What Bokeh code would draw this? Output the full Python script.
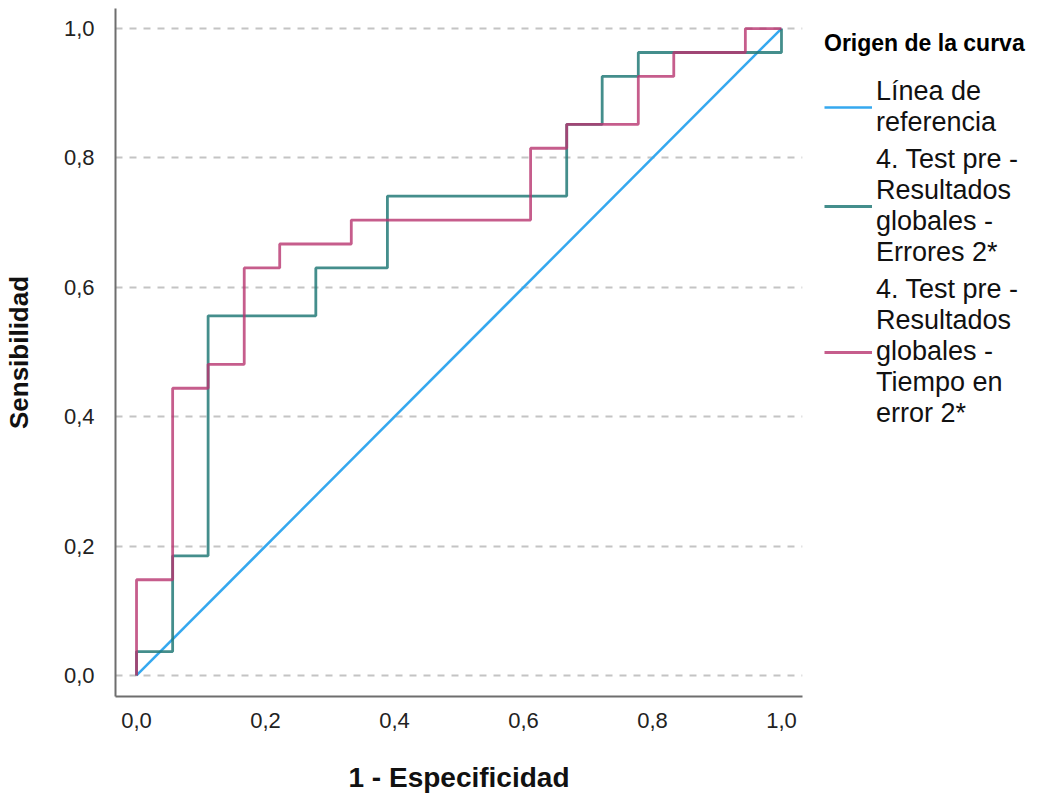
from bokeh.plotting import figure
from bokeh.models import (Legend, LegendItem, FixedTicker, CustomJSTickFormatter,
                          Range1d)
from bokeh.embed import file_html
from bokeh.resources import INLINE

# ---- data ----
ref_x = [0.0, 1.0]
ref_y = [0.0, 1.0]

errores_x = [0.0, 0.0, 0.056, 0.056, 0.111, 0.111, 0.278, 0.278, 0.389, 0.389,
             0.667, 0.667, 0.722, 0.722, 0.778, 0.778, 1.0, 1.0]
errores_y = [0.0, 0.037, 0.037, 0.185, 0.185, 0.556, 0.556, 0.630, 0.630, 0.741,
             0.741, 0.852, 0.852, 0.926, 0.926, 0.963, 0.963, 1.0]

tiempo_x = [0.0, 0.0, 0.056, 0.056, 0.111, 0.111, 0.167, 0.167, 0.222, 0.222,
            0.333, 0.333, 0.611, 0.611, 0.667, 0.667, 0.778, 0.778, 0.833, 0.833,
            0.944, 0.944, 1.0]
tiempo_y = [0.0, 0.148, 0.148, 0.444, 0.444, 0.481, 0.481, 0.630, 0.630, 0.667,
            0.667, 0.704, 0.704, 0.815, 0.815, 0.852, 0.852, 0.926, 0.926, 0.963,
            0.963, 1.0, 1.0]

ticks = [0.0, 0.2, 0.4, 0.6, 0.8, 1.0]

labels = ["Línea de\nreferencia",
          "4. Test pre -\nResultados\nglobales -\nErrores 2*",
          "4. Test pre -\nResultados\nglobales -\nTiempo en\nerror 2*"]
colors = ["#35a8ef", "#237a78", "#b8346f"]

FONT = "Liberation Sans"

p = figure(frame_width=687, frame_height=688, output_backend="svg",
           toolbar_location=None,
           x_range=Range1d(-0.0326, 1.0326), y_range=Range1d(-0.0325, 1.031),
           min_border_left=113, min_border_top=8, min_border_bottom=92,
           min_border_right=0, background_fill_color="white",
           border_fill_color="white", outline_line_color=None)

r0 = p.line(ref_x, ref_y, line_color=colors[0], line_width=2.5)
r1 = p.line(errores_x, errores_y, line_color=colors[1], line_width=2.8, line_alpha=0.85)
r2 = p.line(tiempo_x, tiempo_y, line_color=colors[2], line_width=2.8, line_alpha=0.8)

fmt = CustomJSTickFormatter(code="return tick.toFixed(1).replace('.', ',');")
for ax in (p.xaxis[0], p.yaxis[0]):
    ax.ticker = FixedTicker(ticks=ticks)
    ax.formatter = fmt
    ax.major_tick_line_color = None
    ax.minor_tick_line_color = None
    ax.axis_line_color = "#6e6e6e"
    ax.axis_line_width = 2
    ax.major_label_text_font = FONT
    ax.major_label_text_font_size = "22px"
    ax.major_label_text_color = "#222222"
    ax.axis_label_text_font = FONT
    ax.axis_label_text_font_style = "bold"
    ax.axis_label_text_color = "#111111"

p.xaxis[0].axis_label = "1 - Especificidad"
p.yaxis[0].axis_label = "Sensibilidad"
p.xaxis[0].axis_label_text_font_size = "28px"
p.yaxis[0].axis_label_text_font_size = "26px"
p.xaxis[0].major_label_standoff = 10
p.yaxis[0].major_label_standoff = 15
p.xaxis[0].axis_label_standoff = 31
p.yaxis[0].axis_label_standoff = 27

p.xgrid.grid_line_color = None
p.ygrid.ticker = FixedTicker(ticks=ticks)
p.ygrid.grid_line_color = "#c4c4c4"
p.ygrid.grid_line_width = 2
p.ygrid.grid_line_dash = "7 7"

legend = Legend(items=[LegendItem(label=labels[0], renderers=[r0]),
                       LegendItem(label=labels[1], renderers=[r1]),
                       LegendItem(label=labels[2], renderers=[r2])],
                title="Origen de la curva", location="top_left",
                border_line_color=None, background_fill_alpha=0,
                margin=22, padding=0, spacing=6,
                glyph_width=48, glyph_height=20, label_standoff=4,
                title_text_font=FONT, title_text_font_style="bold",
                title_text_font_size="23px", title_text_color="#000000",
                title_standoff=19,
                label_text_font=FONT, label_text_font_size="27px",
                label_text_line_height=1.02, label_text_color="#111111")
p.add_layout(legend, "right")

open("out.html", "w").write(file_html(p, INLINE))
